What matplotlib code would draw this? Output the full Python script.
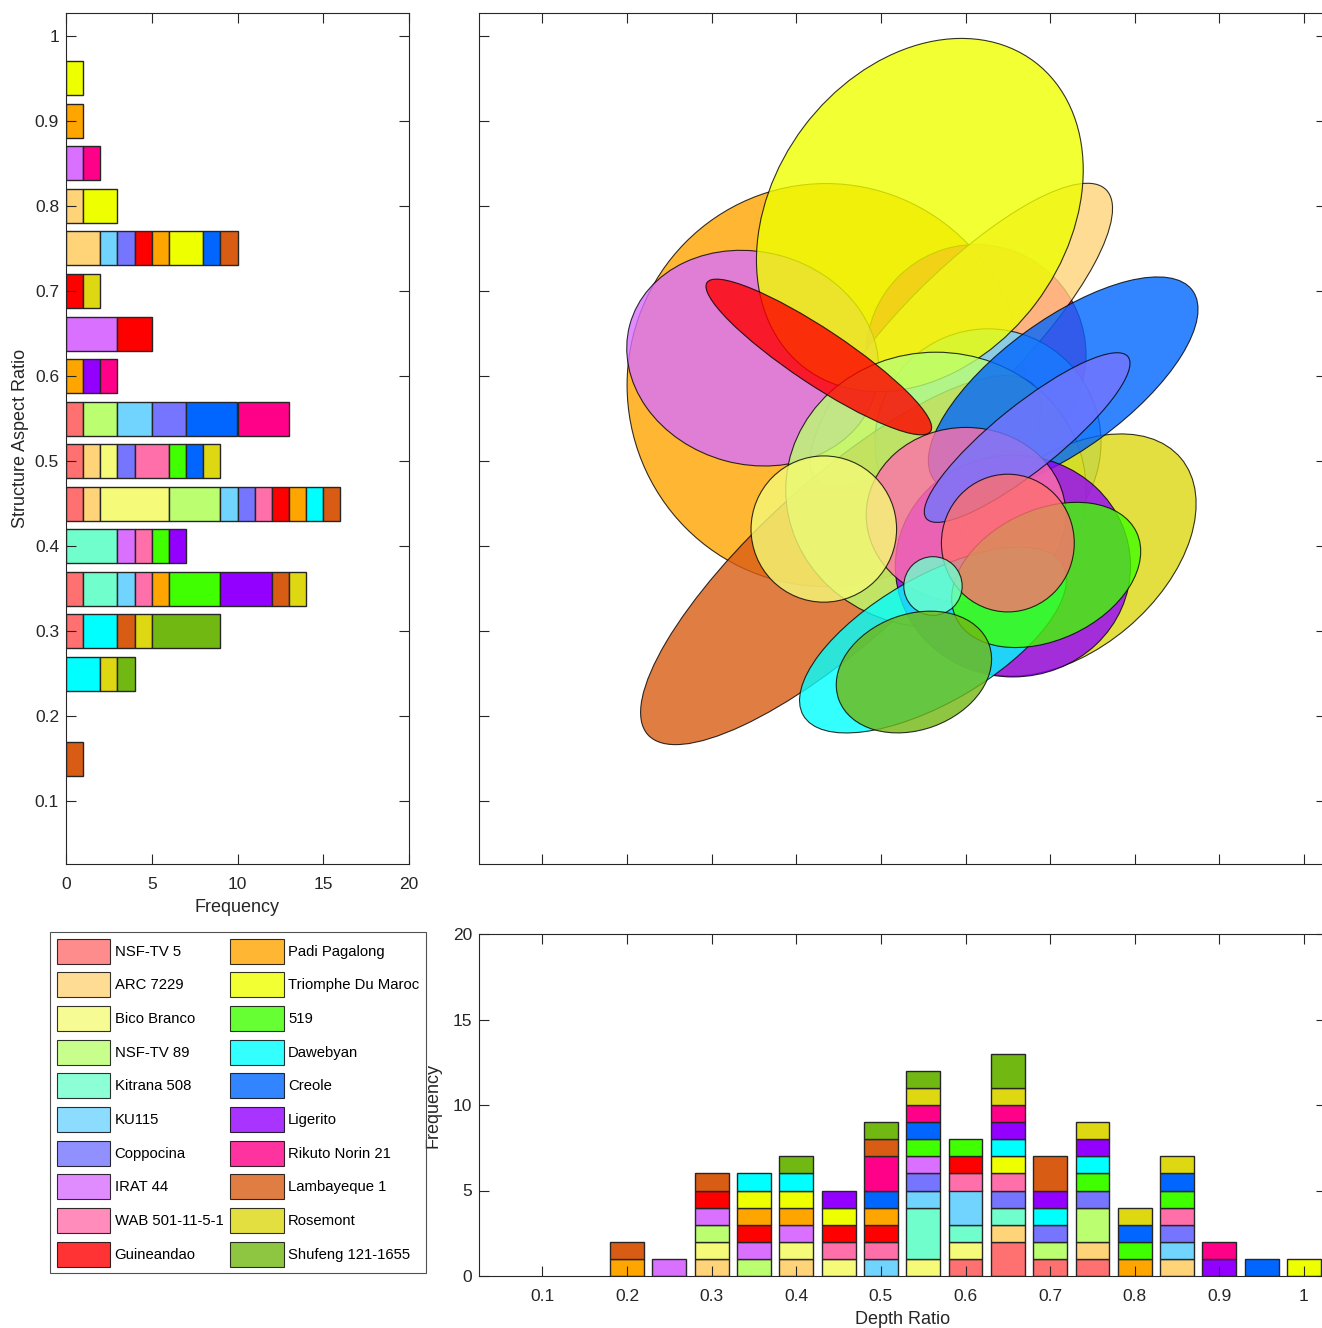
import numpy as np
import matplotlib
matplotlib.use('Agg')
import matplotlib.pyplot as plt
from matplotlib.patches import Ellipse, Patch

plt.rcParams['font.family'] = ['Liberation Sans', 'DejaVu Sans']

cultivars = ['NSF-TV 5', 'ARC 7229', 'Bico Branco', 'NSF-TV 89', 'Kitrana 508',
             'KU115', 'Coppocina', 'IRAT 44', 'WAB 501-11-5-1', 'Guineandao',
             'Padi Pagalong', 'Triomphe Du Maroc', '519', 'Dawebyan', 'Creole',
             'Ligerito', 'Rikuto Norin 21', 'Lambayeque 1', 'Rosemont',
             'Shufeng 121-1655']
colors = ['#FF7070', '#FFD478', '#F5FA78', '#BBFF70', '#70FFCC',
          '#70D4FF', '#7575FF', '#D970FF', '#FF70AA', '#FF0000',
          '#FFA500', '#EEFF00', '#40FF00', '#00FFFF', '#0066FF',
          '#9400FF', '#FF0088', '#D95C14', '#DDD811', '#72B812']

# structure aspect ratio (binned, 0.05 steps), five samples per cultivar
aspect = [
    [0.55, 0.50, 0.45, 0.35, 0.30],
    [0.80, 0.75, 0.75, 0.50, 0.45],
    [0.50, 0.45, 0.45, 0.45, 0.45],
    [0.55, 0.55, 0.45, 0.45, 0.45],
    [0.40, 0.40, 0.40, 0.35, 0.35],
    [0.75, 0.55, 0.55, 0.45, 0.35],
    [0.75, 0.55, 0.55, 0.50, 0.45],
    [0.85, 0.65, 0.65, 0.65, 0.40],
    [0.50, 0.50, 0.45, 0.40, 0.35],
    [0.75, 0.70, 0.65, 0.65, 0.45],
    [0.90, 0.75, 0.60, 0.45, 0.35],
    [0.95, 0.80, 0.80, 0.75, 0.75],
    [0.50, 0.40, 0.35, 0.35, 0.35],
    [0.45, 0.30, 0.30, 0.25, 0.25],
    [0.75, 0.55, 0.55, 0.55, 0.50],
    [0.60, 0.40, 0.35, 0.35, 0.35],
    [0.85, 0.60, 0.55, 0.55, 0.55],
    [0.75, 0.45, 0.35, 0.30, 0.15],
    [0.70, 0.50, 0.35, 0.30, 0.25],
    [0.30, 0.30, 0.30, 0.30, 0.25],
]
# depth ratio (binned)
depth = [
    [0.60, 0.65, 0.65, 0.70, 0.75],
    [0.30, 0.40, 0.65, 0.75, 0.85],
    [0.30, 0.40, 0.45, 0.55, 0.60],
    [0.30, 0.35, 0.70, 0.75, 0.75],
    [0.55, 0.55, 0.55, 0.60, 0.65],
    [0.50, 0.55, 0.60, 0.60, 0.85],
    [0.55, 0.65, 0.70, 0.75, 0.85],
    [0.25, 0.30, 0.35, 0.40, 0.55],
    [0.45, 0.50, 0.60, 0.65, 0.85],
    [0.30, 0.35, 0.45, 0.50, 0.60],
    [0.20, 0.35, 0.40, 0.50, 0.80],
    [0.35, 0.40, 0.45, 0.65, 1.00],
    [0.55, 0.60, 0.75, 0.80, 0.85],
    [0.35, 0.40, 0.65, 0.70, 0.75],
    [0.50, 0.55, 0.80, 0.85, 0.95],
    [0.45, 0.65, 0.70, 0.75, 0.90],
    [0.50, 0.50, 0.55, 0.65, 0.90],
    [0.20, 0.30, 0.50, 0.70, 0.70],
    [0.55, 0.65, 0.75, 0.80, 0.85],
    [0.40, 0.50, 0.55, 0.65, 0.65],
]

# ellipse per cultivar: centre (depth, aspect), axes and angle (deg)
ell_x = [0.650, 0.595, 0.4325, 0.565, 0.5615, 0.6266, 0.6728, 0.3485, 0.6006, 0.4266,
         0.435, 0.546, 0.6953, 0.5615, 0.7154, 0.656, 0.6124, 0.4527, 0.719, 0.539]
ell_y = [0.4035, 0.648, 0.420, 0.466, 0.353, 0.522, 0.5276, 0.621, 0.4365, 0.6224,
         0.5894, 0.7894, 0.366, 0.2894, 0.5894, 0.3765, 0.6247, 0.3835, 0.3894, 0.2518]
ell_w = [0.157, 0.484, 0.172, 0.355, 0.069, 0.267, 0.305, 0.301, 0.236, 0.317,
         0.470, 0.451, 0.236, 0.354, 0.378, 0.278, 0.260, 0.614, 0.354, 0.189]
ell_h = [0.162, 0.146, 0.172, 0.324, 0.069, 0.267, 0.077, 0.250, 0.206, 0.065,
         0.474, 0.344, 0.153, 0.148, 0.153, 0.261, 0.260, 0.189, 0.224, 0.136]
ell_a = [0, 45, 0, 0, 0, 0, 38.6, -15, 0, -33.5,
         0, 53, 25, 30, 36, 0, 0, 42, 40, 20]
# stacking of the ellipses, bottom to top
draw_order = ['Padi Pagalong', 'Rikuto Norin 21', 'ARC 7229', 'KU115', 'IRAT 44',
              'Triomphe Du Maroc', 'Lambayeque 1', 'NSF-TV 89', 'Rosemont', 'Creole',
              'Ligerito', 'WAB 501-11-5-1', 'Dawebyan', 'Bico Branco', 'Guineandao',
              '519', 'Coppocina', 'NSF-TV 5', 'Kitrana 508', 'Shufeng 121-1655']

W, H = 1322, 1328
fig = plt.figure(figsize=(W / 100, H / 100), dpi=100)

def box(x0, y0, x1, y1):
    return [x0 / W, 1 - y1 / H, (x1 - x0) / W, (y1 - y0) / H]

def style(ax):
    ax.tick_params(direction='in', length=7, width=0.8, top=True, right=True,
                   colors='#262626', labelsize=12.5, labelcolor='#262626')
    ax.tick_params(axis='x', pad=9.5)
    ax.tick_params(axis='y', pad=5)
    for s in ax.spines.values():
        s.set_color('#262626')
        s.set_linewidth(0.8)

edge_col = '#262626'
nb = 21
centers = np.arange(nb) * 0.05

ax_l = fig.add_axes(box(66, 13, 409, 864))
left = np.zeros(nb)
for i in range(len(cultivars)):
    cnt = np.bincount(np.round(np.array(aspect[i]) / 0.05).astype(int), minlength=nb)
    m = cnt > 0
    ax_l.barh(centers[m], cnt[m], height=0.04, left=left[m], color=colors[i],
              edgecolor=edge_col, linewidth=1)
    left += cnt
ax_l.set_xlim(0, 20)
ax_l.set_ylim(0.026, 1.027)
ax_l.set_xticks([0, 5, 10, 15, 20])
ax_l.set_yticks(np.round(np.arange(0.1, 1.01, 0.1), 1))
ax_l.set_yticklabels(['0.1', '0.2', '0.3', '0.4', '0.5', '0.6', '0.7', '0.8', '0.9', '1'])
ax_l.set_xlabel('Frequency', fontsize=13, color='#262626', labelpad=5)
ax_l.set_ylabel('Structure Aspect Ratio', fontsize=13, color='#262626')
style(ax_l)

ax_e = fig.add_axes(box(479, 13, 1326, 864))
for name in draw_order:
    i = cultivars.index(name)
    ax_e.add_patch(Ellipse((ell_x[i], ell_y[i]), ell_w[i], ell_h[i], angle=ell_a[i],
                           facecolor=colors[i], alpha=0.8, edgecolor='black',
                           linewidth=0.8))
ax_e.set_xlim(0.025, 1.026)
ax_e.set_ylim(0.026, 1.027)
ax_e.set_xticks(np.arange(0.1, 1.01, 0.1))
ax_e.set_yticks(np.arange(0.1, 1.01, 0.1))
ax_e.set_xticklabels([])
ax_e.set_yticklabels([])
style(ax_e)

ax_b = fig.add_axes(box(479, 934, 1326, 1276))
bottom = np.zeros(nb)
for i in range(len(cultivars)):
    cnt = np.bincount(np.round(np.array(depth[i]) / 0.05).astype(int), minlength=nb)
    m = cnt > 0
    ax_b.bar(centers[m], cnt[m], width=0.04, bottom=bottom[m], color=colors[i],
             edgecolor=edge_col, linewidth=1)
    bottom += cnt
ax_b.set_xlim(0.025, 1.026)
ax_b.set_ylim(0, 20)
ax_b.set_xticks(np.round(np.arange(0.1, 1.01, 0.1), 1))
ax_b.set_xticklabels(['0.1', '0.2', '0.3', '0.4', '0.5', '0.6', '0.7', '0.8', '0.9', '1'])
ax_b.set_yticks([0, 5, 10, 15, 20])
ax_b.set_xlabel('Depth Ratio', fontsize=13, color='#262626', labelpad=5)
ax_b.set_ylabel('Frequency', fontsize=13, color='#262626', labelpad=8)
style(ax_b)

handles = [Patch(facecolor=c, alpha=0.8, edgecolor='black', linewidth=0.8) for c in colors]
leg = fig.legend(handles, cultivars, loc='upper left', ncol=2,
                 bbox_to_anchor=(50 / W, 1 - 932 / H), borderaxespad=0,
                 fontsize=10.7, handlelength=3.6, handleheight=2.2,
                 labelspacing=0.59, handletextpad=0.3, columnspacing=0.45,
                 borderpad=0.45, fancybox=False, edgecolor='#262626')
leg.get_frame().set_linewidth(0.8)

fig.savefig('out.png', dpi=100)
